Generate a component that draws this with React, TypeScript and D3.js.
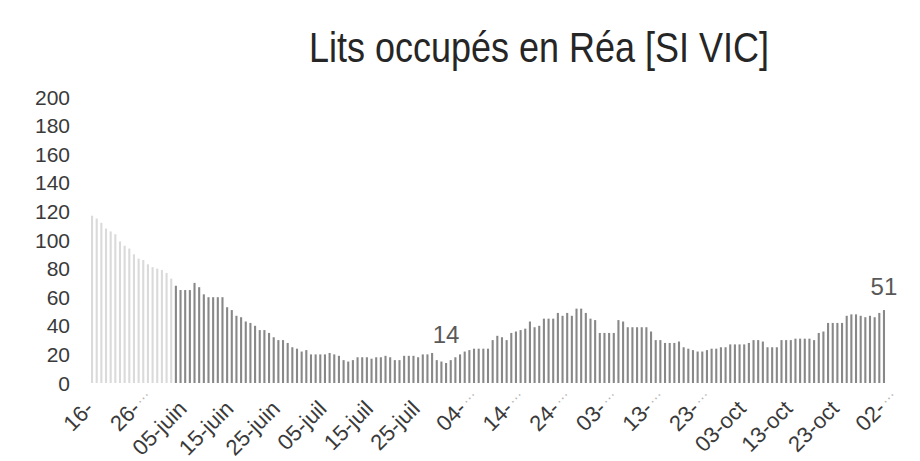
import React, { useEffect, useRef } from 'react';
import * as d3 from 'd3';

// one bar per day starting 16 May
const startDay = new Date(2020, 4, 16);

const occupied = [
  117, 115, 112, 108, 106, 104, 99, 96, 94, 90, 87, 86, 83, 81, 80, 79, 77, 73,
  68, 65, 65, 65, 70, 67, 62, 60, 60, 60, 60, 53, 51, 47, 46, 43, 42, 40, 37, 37,
  35, 32, 30, 30, 28, 25, 24, 22, 23, 20, 20, 20, 20,
  21, 20, 19, 16, 15, 16, 18, 18, 18, 17, 18, 18, 19, 18, 16, 16, 19, 19, 19, 18,
  20, 20, 21, 16, 15, 14, 16, 18, 20, 22, 23, 24, 24, 24, 24, 30, 33, 32, 30, 35,
  36, 37, 38, 43, 39, 40, 45, 45, 45, 49, 47, 49, 47, 52,
  52, 49, 45, 44, 35, 35, 35, 35, 44, 43, 39, 39, 39, 39, 39, 36, 30, 30, 28, 28,
  28, 29, 25, 24, 23, 22, 22, 23, 24, 24, 25, 25, 27, 27, 27, 27, 28, 30, 30, 29,
  25, 25, 25, 30, 30, 30, 31, 31, 31, 31, 30, 35, 36, 42, 42, 42, 42, 47, 48, 48,
  47, 46, 47, 46, 49, 51
];

const tickLabels = [
  '16-', '26-…', '05-juin', '15-juin', '25-juin', '05-juil', '15-juil', '25-juil',
  '04-…', '14-…', '24-…', '03-…', '13-…', '23-…', '03-oct', '13-oct', '23-oct', '02-…'
];
const tickEvery = 10;

const yTicks = [0, 20, 40, 60, 80, 100, 120, 140, 160, 180, 200];

// days that carry a value label
const labelledDays = [76, 170];
// first days came out washed out on the scan
const fadedDays = 18;

const title = 'Lits occupés en Réa [SI VIC]';

function App() {
  const chartRef = useRef(null);

  useEffect(() => {
    const svg = d3.select(chartRef.current);
    svg.selectAll('*').remove();

    const days = occupied.map((_, i) => d3.timeDay.offset(startDay, i));

    const x = d3.scaleBand()
      .domain(days.map(d => +d))
      .range([89.7, 886.3])
      .paddingInner(0.55)
      .paddingOuter(0.275);

    const y = d3.scaleLinear()
      .domain([0, 200])
      .range([383, 97]);

    const font = 'Liberation Sans, Arial, sans-serif';

    svg.append('text')
      .attr('transform', 'translate(539,62) scale(1,1.18)')
      .attr('text-anchor', 'middle')
      .attr('font-family', font)
      .attr('font-size', 36)
      .attr('fill', '#262626')
      .text(title);

    // y axis labels only, no line
    svg.append('g')
      .selectAll('text')
      .data(yTicks)
      .join('text')
      .attr('x', 70)
      .attr('y', d => y(d))
      .attr('dy', '0.36em')
      .attr('text-anchor', 'end')
      .attr('font-family', font)
      .attr('font-size', 21)
      .attr('fill', '#3a3a3a')
      .text(d => d);

    svg.append('g')
      .selectAll('rect')
      .data(occupied)
      .join('rect')
      .attr('x', (_, i) => x(+days[i]))
      .attr('y', d => y(d))
      .attr('width', x.bandwidth())
      .attr('height', d => y(0) - y(d))
      .attr('fill', (_, i) => i < fadedDays ? '#dadada' : '#888888');

    const center = (i) => x(+days[i]) + x.bandwidth() / 2;

    const ticks = svg.append('g')
      .selectAll('g')
      .data(tickLabels)
      .join('g')
      .attr('transform', (_, i) => 'translate(' + (center(i * tickEvery) + 3) + ',410) rotate(-45)');

    ticks.append('text')
      .attr('text-anchor', 'end')
      .attr('font-family', font)
      .attr('font-size', 22)
      .attr('fill', '#3a3a3a')
      .text(d => d.split('…')[0]);

    ticks.filter(d => d.includes('…'))
      .append('text')
      .attr('x', 2)
      .attr('y', -6)
      .attr('font-family', font)
      .attr('font-size', 15)
      .attr('letter-spacing', 2)
      .attr('fill', '#b5b5b5')
      .text('…');

    svg.append('g')
      .selectAll('text')
      .data(labelledDays)
      .join('text')
      .attr('x', d => center(d))
      .attr('y', d => y(occupied[d]) - (d === 170 ? 15 : 20))
      .attr('text-anchor', 'middle')
      .attr('font-family', font)
      .attr('font-size', 24)
      .attr('fill', '#595959')
      .text(d => occupied[d]);
  }, []);

  return (
    <svg
      ref={chartRef}
      width={920}
      height={461}
      style={{ position: 'absolute', left: 0, top: 0, background: '#fff' }}
    ></svg>
  );
}

export default App;
